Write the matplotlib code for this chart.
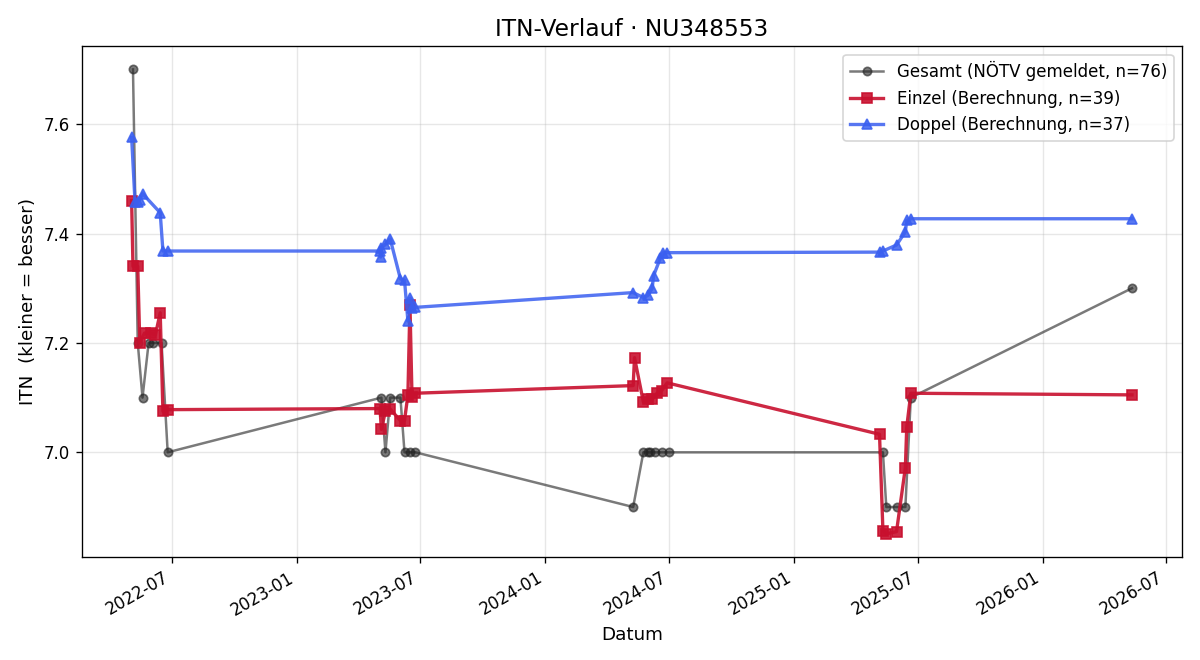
import matplotlib
matplotlib.use("Agg")
import matplotlib.pyplot as plt
import matplotlib.dates as mdates
import pandas as pd

# Gesamt (NÖTV gemeldet)
ges_dates = ["2022-05-05", "2022-05-12", "2022-05-19", "2022-05-28", "2022-06-04", "2022-06-16", "2022-06-25",
             "2023-05-05", "2023-05-11", "2023-05-18", "2023-06-02", "2023-06-08", "2023-06-16", "2023-06-24",
             "2024-05-09", "2024-05-24", "2024-05-31", "2024-06-03", "2024-06-10", "2024-06-20", "2024-06-30",
             "2025-05-11", "2025-05-16", "2025-05-31", "2025-06-13", "2025-06-21",
             "2026-05-12"]
ges_itn = [7.70, 7.20, 7.10, 7.20, 7.20, 7.20, 7.00,
           7.10, 7.00, 7.10, 7.10, 7.00, 7.00, 7.00,
           6.90, 7.00, 7.00, 7.00, 7.00, 7.00, 7.00,
           7.00, 6.90, 6.90, 6.90, 7.10,
           7.30]

# Einzel (Berechnung)
ein_dates = ["2022-05-03", "2022-05-05", "2022-05-12", "2022-05-15", "2022-05-22", "2022-05-31", "2022-06-07",
             "2022-06-14", "2022-06-18", "2022-06-25",
             "2023-05-03", "2023-05-05", "2023-05-11", "2023-05-18", "2023-06-02", "2023-06-08", "2023-06-13",
             "2023-06-16", "2023-06-19", "2023-06-24",
             "2024-05-09", "2024-05-11", "2024-05-24", "2024-05-31", "2024-06-06", "2024-06-13", "2024-06-20",
             "2024-06-28",
             "2025-05-06", "2025-05-11", "2025-05-16", "2025-05-31", "2025-06-13", "2025-06-15", "2025-06-21",
             "2026-05-12"]
ein_itn = [7.46, 7.34, 7.34, 7.20, 7.218, 7.218, 7.215, 7.255, 7.075, 7.078,
           7.080, 7.042, 7.075, 7.079, 7.058, 7.058, 7.105, 7.27, 7.102, 7.108,
           7.122, 7.173, 7.092, 7.097, 7.097, 7.108, 7.113, 7.127,
           7.033, 6.857, 6.851, 6.855, 6.972, 7.046, 7.108,
           7.105]

# Doppel (Berechnung)
dop_dates = ["2022-05-03", "2022-05-08", "2022-05-12", "2022-05-15", "2022-05-19", "2022-06-14", "2022-06-18",
             "2022-06-25",
             "2023-05-03", "2023-05-04", "2023-05-05", "2023-05-11", "2023-05-18", "2023-06-02", "2023-06-08",
             "2023-06-13", "2023-06-16", "2023-06-19", "2023-06-24",
             "2024-05-09", "2024-05-24", "2024-05-31", "2024-06-06", "2024-06-08", "2024-06-18", "2024-06-22",
             "2024-06-28",
             "2025-05-06", "2025-05-11", "2025-05-31", "2025-06-13", "2025-06-15", "2025-06-21",
             "2026-05-12"]
dop_itn = [7.576, 7.458, 7.458, 7.462, 7.473, 7.438, 7.368, 7.368,
           7.368, 7.357, 7.374, 7.380, 7.390, 7.317, 7.315, 7.240, 7.282, 7.264, 7.265,
           7.292, 7.283, 7.287, 7.300, 7.323, 7.355, 7.365, 7.365,
           7.366, 7.368, 7.379, 7.403, 7.424, 7.427,
           7.427]

fig, ax = plt.subplots(figsize=(10, 5.5), dpi=120)
ax.plot(pd.to_datetime(ges_dates), ges_itn, color="#222222", alpha=0.6, lw=1.5, marker="o", ms=5,
        label="Gesamt (NÖTV gemeldet, n=76)")
ax.plot(pd.to_datetime(ein_dates), ein_itn, color="#c8102e", alpha=0.9, lw=2, marker="s", ms=6,
        label="Einzel (Berechnung, n=39)")
ax.plot(pd.to_datetime(dop_dates), dop_itn, color="#3a5ff0", alpha=0.85, lw=2, marker="^", ms=6,
        label="Doppel (Berechnung, n=37)")

ax.set_title("ITN-Verlauf · NU348553", fontsize=14)
ax.set_xlabel("Datum", fontsize=11)
ax.set_ylabel("ITN  (kleiner = besser)", fontsize=11)
ax.xaxis.set_major_locator(mdates.MonthLocator(bymonth=[1, 7]))
ax.xaxis.set_major_formatter(mdates.DateFormatter("%Y-%m"))
ax.grid(alpha=0.3)
ax.legend(loc="upper right", fontsize=10)
fig.autofmt_xdate()
fig.subplots_adjust(left=0.068, right=0.985, top=0.93, bottom=0.156)
fig.savefig("out.png")
